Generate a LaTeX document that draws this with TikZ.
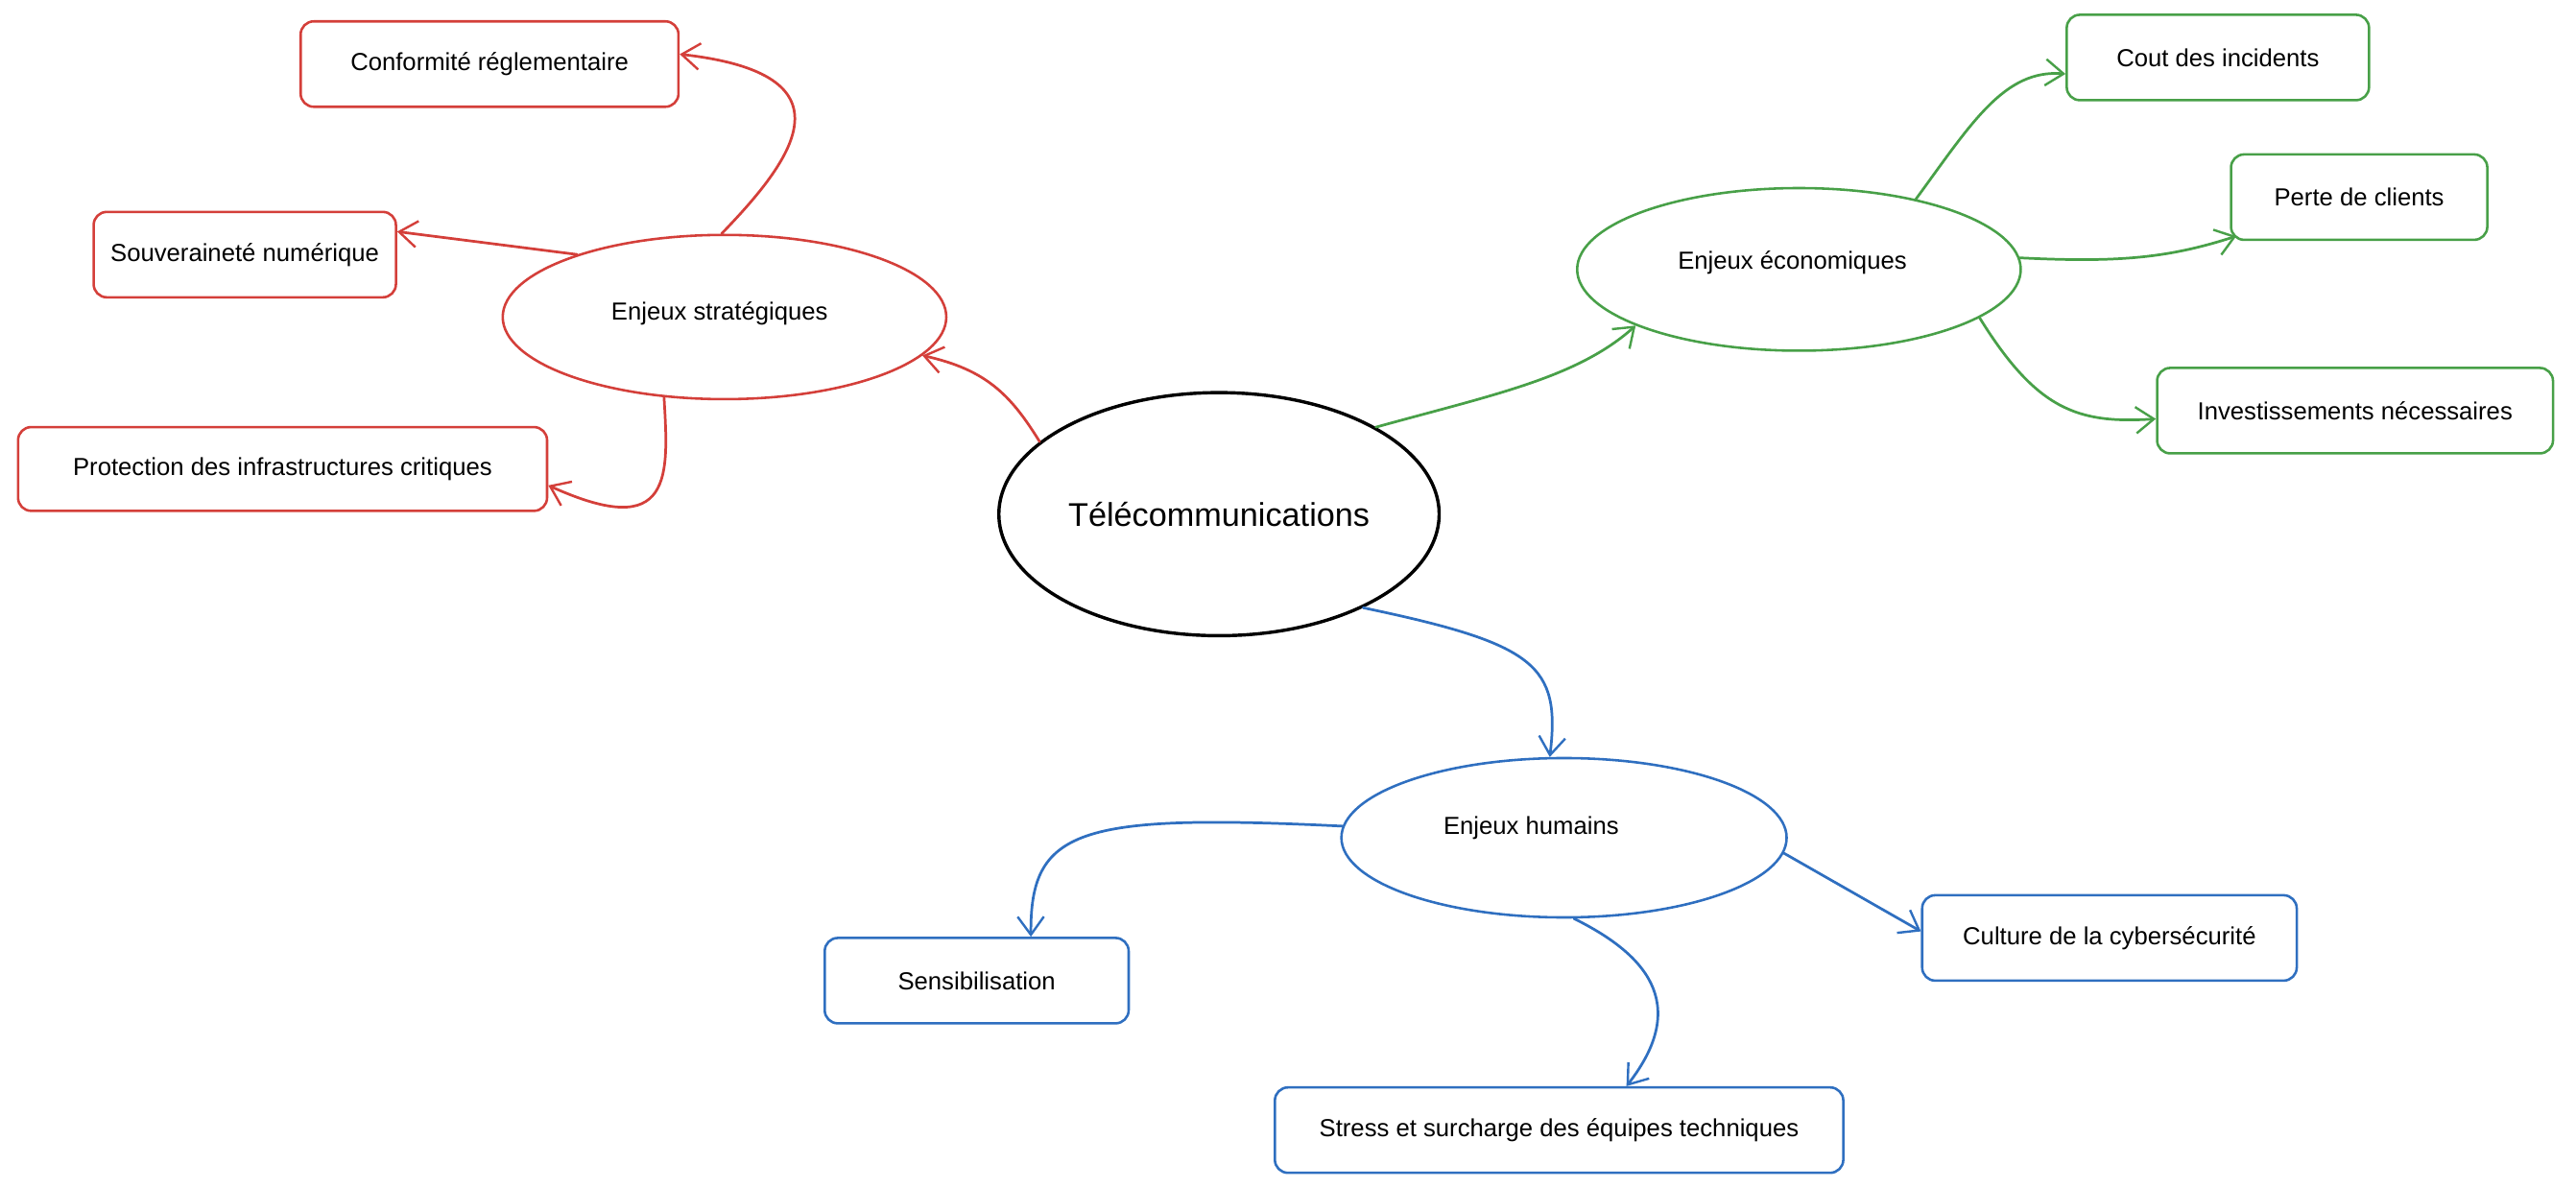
\documentclass[tikz,border=0pt]{standalone}
\usepackage{fontspec}
\setmainfont{Liberation Sans}
\usetikzlibrary{arrows.meta,shapes.geometric,calc}
\definecolor{cred}{HTML}{D43F3A}
\definecolor{cgreen}{HTML}{48A048}
\definecolor{cblue}{HTML}{2F6FC0}
\begin{document}
\begin{tikzpicture}[x=1pt,y=1pt,
  box/.style={draw,rounded corners=8pt,line width=1.5pt,minimum height=52pt,inner sep=0pt,font=\fontsize{15}{18}\selectfont},
  bubble/.style={draw,ellipse,line width=1.5pt,inner sep=0pt},
  lbl/.style={font=\fontsize{15}{18}\selectfont,text=black},
  link/.style={line width=1.6pt,line cap=round,-{Straight Barb[length=11pt,width=16pt,line width=1.4pt]}},
]
\useasboundingbox (0,0) rectangle (1568,-723);
\fill[white] (0,0) rectangle (1568,-723);

% central
\node[bubble,line width=2pt,minimum width=268pt,minimum height=148pt,font=\fontsize{20}{24}\selectfont] (tel) at (742,-313) {Télécommunications};

% red group
\node[bubble,draw=cred,minimum width=270pt,minimum height=100pt,label={[lbl,shift={(-3pt,2pt)}]center:Enjeux stratégiques}] (strat) at (441,-193) {};
\node[box,draw=cred,minimum width=230pt] (conf) at (298,-39) {Conformité réglementaire};
\node[box,draw=cred,minimum width=184pt] (souv) at (149,-155) {Souveraineté numérique};
\node[box,draw=cred,minimum width=322pt,minimum height=51pt] (prot) at (172,-285.5) {Protection des infrastructures critiques};

% green group
\node[bubble,draw=cgreen,minimum width=270pt,minimum height=99pt,label={[lbl,shift={(-4pt,4pt)}]center:Enjeux économiques}] (eco) at (1095,-164) {};
\node[box,draw=cgreen,minimum width=184pt] (cout) at (1350,-35) {Cout des incidents};
\node[box,draw=cgreen,minimum width=156pt] (perte) at (1436,-120) {Perte de clients};
\node[box,draw=cgreen,minimum width=241pt] (invest) at (1433.5,-250) {Investissements nécessaires};

% blue group
\node[bubble,draw=cblue,minimum width=271pt,minimum height=97pt,label={[lbl,shift={(-20pt,6pt)}]center:Enjeux humains}] (hum) at (952,-510) {};
\node[box,draw=cblue,minimum width=185pt] (sensib) at (594.5,-597) {Sensibilisation};
\node[box,draw=cblue,minimum width=228pt] (culture) at (1284,-571) {Culture de la cybersécurité};
\node[box,draw=cblue,minimum width=346pt] (stress) at (949,-688) {Stress et surcharge des équipes techniques};

% red links
\draw[link,draw=cred] (tel.158) .. controls (615,-240) and (600,-225) .. (strat.-11);
\draw[link,draw=cred] (strat.92) .. controls (485,-95) and (520,-45) .. ([yshift=6pt]conf.east);
\draw[link,draw=cred] (strat.157) -- ([yshift=14pt]souv.east);
\draw[link,draw=cred] (strat.233) .. controls (407,-290) and (410,-330) .. ([yshift=-10pt]prot.east);

% green links
\draw[link,draw=cgreen] (tel.29) .. controls (910,-240) and (960,-230) .. (eco.199);
\draw[link,draw=cgreen] (eco.31) .. controls (1200,-75) and (1220,-42) .. ([yshift=-10pt]cout.west);
\draw[link,draw=cgreen] (eco.3) .. controls (1290,-160) and (1320,-157) .. ([xshift=4pt,yshift=3pt]perte.south west);
\draw[link,draw=cgreen] (eco.-15) .. controls (1240,-250) and (1265,-258) .. ([yshift=-5pt]invest.west);

% blue links
\draw[link,draw=cblue] (tel.-33) .. controls (935,-392) and (950,-405) .. (hum.100);
\draw[link,draw=cblue] (hum.177) .. controls (655,-495) and (627,-505) .. ([xshift=33pt]sensib.north);
\draw[link,draw=cblue] (hum.-4) -- ([yshift=4pt]culture.west);
\draw[link,draw=cblue] (hum.-83) .. controls (1000,-580) and (1030,-610) .. ([xshift=41pt]stress.north);
\end{tikzpicture}
\end{document}
